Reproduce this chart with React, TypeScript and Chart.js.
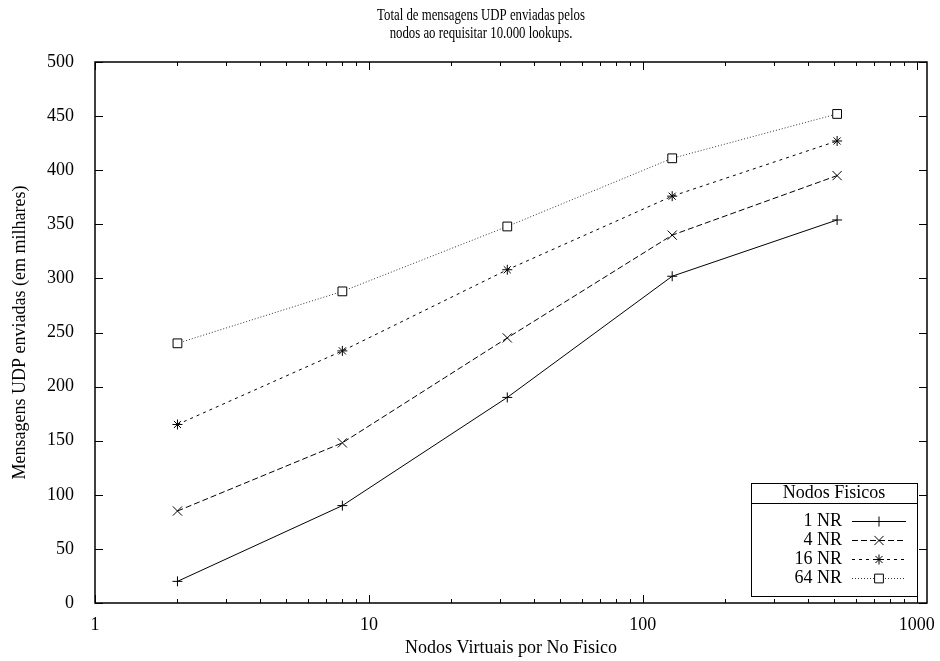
import React, { useEffect, useRef } from "react";
import { Chart, registerables } from "chart.js";

Chart.register(...registerables);

const xValues = [2, 8, 32, 128, 512];
const seriesLabels = ["1 NR", "4 NR", "16 NR", "64 NR"];
const nr1 = [20, 90, 190, 302, 354];
const nr4 = [85, 148, 245, 340, 395];
const nr16 = [165, 233, 308, 376, 427];
const nr64 = [240, 288, 348, 411, 452];
const xTicks = [1, 10, 100, 1000];
const yTicks = [0, 50, 100, 150, 200, 250, 300, 350, 400, 450, 500];
const titleLines = ["Total de mensagens UDP enviadas pelos", "nodos ao requisitar 10.000 lookups."];
const xTitle = "Nodos Virtuais por No Fisico";
const yTitle = "Mensagens UDP enviadas (em milhares)";
const legendTitle = "Nodos Fisicos";

const FONT = "'Liberation Serif', 'DejaVu Serif', serif";

const styles = [
  { dash: [], point: "cross", radius: 5, color: "#000" },
  { dash: [6, 3], point: "crossRot", radius: 6.5, color: "#000" },
  { dash: [3, 4], point: "star", radius: 5, color: "#000" },
  { dash: [1, 2], point: "rect", radius: 6.2, color: "#333" },
];

function drawPoint(ctx: any, style: string, r: number, x: number, y: number) {
  ctx.save();
  ctx.strokeStyle = "#000";
  ctx.lineWidth = 1;
  ctx.setLineDash([]);
  ctx.beginPath();
  if (style === "cross" || style === "star") {
    ctx.moveTo(x - r, y);
    ctx.lineTo(x + r, y);
    ctx.moveTo(x, y - r);
    ctx.lineTo(x, y + r);
  }
  if (style === "crossRot" || style === "star") {
    const d = r * Math.SQRT1_2;
    ctx.moveTo(x - d, y - d);
    ctx.lineTo(x + d, y + d);
    ctx.moveTo(x - d, y + d);
    ctx.lineTo(x + d, y - d);
  }
  if (style === "rect") {
    const s = r * Math.SQRT1_2;
    ctx.fillStyle = "#fff";
    ctx.fillRect(x - s, y - s, 2 * s, 2 * s);
    ctx.rect(x - s, y - s, 2 * s, 2 * s);
  }
  ctx.stroke();
  ctx.restore();
}

const decor = {
  id: "decor",
  afterDraw(chart: any) {
    const ctx = chart.ctx;
    const { left, right, top, bottom } = chart.chartArea;
    const xs = chart.scales.x;
    const ys = chart.scales.y;
    ctx.save();

    const bx = 751, by = 483, br = Math.round(xs.getPixelForValue(1000)), bb = 596;
    ctx.fillStyle = "#fff";
    ctx.fillRect(bx, by, br - bx, bb - by);
    ctx.lineWidth = 1;
    ctx.strokeStyle = "#000";
    ctx.setLineDash([]);
    ctx.strokeRect(bx + 0.5, by + 0.5, br - bx, bb - by);
    ctx.beginPath();
    ctx.moveTo(bx, by + 20.5);
    ctx.lineTo(br, by + 20.5);
    ctx.stroke();
    ctx.fillStyle = "#000";
    ctx.font = `18px ${FONT}`;
    ctx.textAlign = "center";
    ctx.textBaseline = "middle";
    ctx.fillText(legendTitle, (bx + br) / 2, by + 10.5);
    chart.data.datasets.forEach((ds: any, i: number) => {
      const y = by + 38 + i * 19;
      ctx.fillStyle = "#000";
      ctx.textAlign = "right";
      ctx.fillText(ds.label, 842, y);
      ctx.strokeStyle = styles[i].color;
      ctx.setLineDash(styles[i].dash);
      ctx.beginPath();
      ctx.moveTo(852, Math.round(y) + 0.5);
      ctx.lineTo(906, Math.round(y) + 0.5);
      ctx.stroke();
      ctx.setLineDash([]);
      drawPoint(ctx, styles[i].point, styles[i].radius, 879, Math.round(y) + 0.5);
    });

    ctx.strokeStyle = "#000";
    ctx.lineWidth = 1;
    ctx.setLineDash([]);
    ctx.beginPath();
    yTicks.forEach((v) => {
      const y = Math.round(ys.getPixelForValue(v)) + 0.5;
      ctx.moveTo(left, y);
      ctx.lineTo(left + 8, y);
      ctx.moveTo(right, y);
      ctx.lineTo(right - 8, y);
    });
    for (let d = 1; d <= 1000; d *= 10) {
      for (let m = 1; m <= 9; m++) {
        const v = d * m;
        if (v > 1000) break;
        const x = Math.round(xs.getPixelForValue(v)) + 0.5;
        const len = m === 1 ? 8 : 4;
        ctx.moveTo(x, bottom);
        ctx.lineTo(x, bottom - len);
        ctx.moveTo(x, top);
        ctx.lineTo(x, top + len);
      }
    }
    ctx.stroke();
    ctx.lineWidth = 1.5;
    ctx.strokeRect(left, top, right - left, bottom - top);

    ctx.fillStyle = "#000";
    ctx.textAlign = "center";
    ctx.textBaseline = "middle";
    ctx.font = `16px ${FONT}`;
    ctx.save();
    ctx.translate(481, 0);
    ctx.scale(0.8, 1);
    ctx.fillText(titleLines[0], 0, 16);
    ctx.fillText(titleLines[1], 0, 34);
    ctx.restore();

    const cx = (left + right) / 2;
    ctx.font = `18px ${FONT}`;
    ctx.fillText(xTitle, cx, 648);
    ctx.save();
    ctx.translate(20, (top + bottom) / 2);
    ctx.rotate(-Math.PI / 2);
    ctx.fillText(yTitle, 0, 0);
    ctx.restore();
    ctx.restore();
  },
};

export default function App() {
  const ref = useRef<HTMLCanvasElement>(null);
  useEffect(() => {
    const all = [nr1, nr4, nr16, nr64];
    const chart = new Chart(ref.current!, {
      type: "line",
      data: {
        datasets: all.map((vals, i) => ({
          label: seriesLabels[i],
          data: vals.map((v, j) => ({ x: xValues[j], y: v })),
          borderColor: styles[i].color,
          borderWidth: 1,
          borderDash: styles[i].dash,
          pointStyle: styles[i].point as any,
          pointRadius: styles[i].radius,
          pointBorderColor: "#000",
          pointBackgroundColor: "#fff",
          pointBorderWidth: 1,
          fill: false,
          tension: 0,
        })),
      },
      options: {
        animation: false,
        responsive: false,
        layout: { padding: { top: 62, right: 13, left: 0, bottom: 0 } },
        plugins: { legend: { display: false }, tooltip: { enabled: false }, title: { display: false } },
        scales: {
          x: {
            type: "logarithmic",
            min: 1,
            max: 1090,
            grid: { display: false },
            border: { display: false },
            afterBuildTicks: (s: any) => {
              s.ticks = xTicks.map((v) => ({ value: v }));
            },
            afterFit: (s: any) => {
              s.height = 58;
            },
            ticks: {
              color: "#000",
              font: { family: FONT, size: 18 },
              padding: 3,
              maxRotation: 0,
              autoSkip: false,
              callback: (v: any) => String(v),
            },
          },
          y: {
            type: "linear",
            min: 0,
            max: 500,
            grid: { display: false },
            border: { display: false },
            afterBuildTicks: (s: any) => {
              s.ticks = yTicks.map((v) => ({ value: v }));
            },
            afterFit: (s: any) => {
              s.width = 95;
            },
            ticks: {
              color: "#000",
              font: { family: FONT, size: 18 },
              padding: 13,
              callback: (v: any) => String(v),
            },
          },
        },
      },
      plugins: [decor],
    });
    return () => chart.destroy();
  }, []);
  return (
    <div style={{ position: "fixed", left: 0, top: 0, width: 940, height: 661, background: "#fff" }}>
      <canvas ref={ref} width={940} height={661} style={{ width: 940, height: 661 }} />
    </div>
  );
}
